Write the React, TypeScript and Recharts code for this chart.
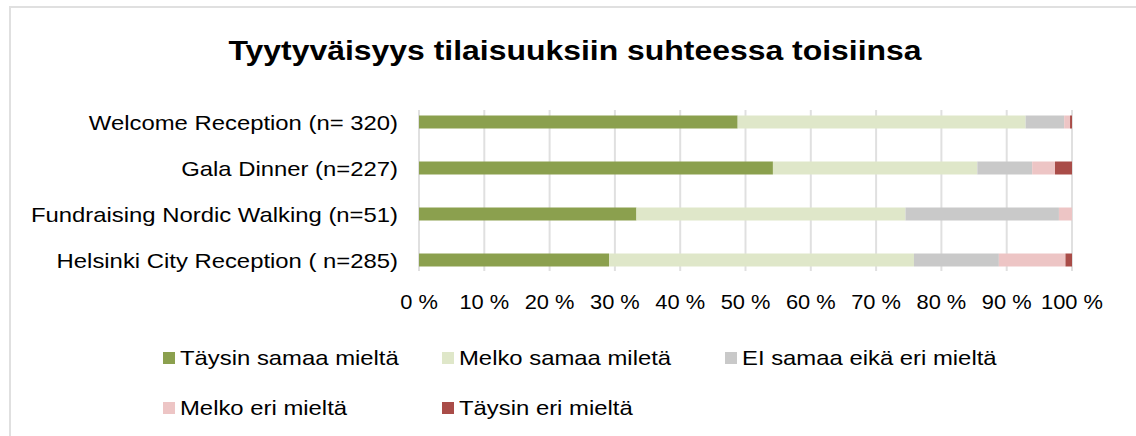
import { Bar, BarChart, CartesianGrid, Legend, XAxis, YAxis } from "recharts";

const events = [
  "Welcome Reception (n= 320)",
  "Gala Dinner (n=227)",
  "Fundraising Nordic Walking (n=51)",
  "Helsinki City Reception ( n=285)",
];

// osuudet prosentteina, luettu kuvasta
const taysinSamaa = [48.8, 54.2, 33.3, 29.1];
const melkoSamaa = [44.1, 31.3, 41.2, 46.7];
const eiSamaaEiEri = [5.9, 8.4, 23.5, 13.0];
const melkoEri = [0.9, 3.5, 2.0, 10.2];
const taysinEri = [0.3, 2.6, 0, 1.0];

const seriesNames = [
  "Täysin samaa mieltä",
  "Melko samaa miletä",
  "EI samaa eikä eri mieltä",
  "Melko eri mieltä",
  "Täysin eri mieltä",
];
const seriesKeys = ["ts", "ms", "ee", "me", "te"];
const seriesColors = ["#8ba04e", "#dfe7c9", "#c9c9c9", "#edc5c5", "#a94c48"];

const xTicks = [0, 10, 20, 30, 40, 50, 60, 70, 80, 90, 100];

const title = "Tyytyväisyys tilaisuuksiin suhteessa toisiinsa";

const data = events.map((name, i) => ({
  name,
  ts: taysinSamaa[i],
  ms: melkoSamaa[i],
  ee: eiSamaaEiEri[i],
  me: melkoEri[i],
  te: taysinEri[i],
}));

const FONT = '"Liberation Sans", Arial, sans-serif';

// legend slots: [left, centerY]
const legendSlots = [
  [163, 358],
  [442, 358],
  [725, 358],
  [163, 408],
  [442, 408],
];

function CategoryTick(props: any) {
  const { x, y, payload } = props;
  return (
    <g transform={`translate(${x},${y})`}>
      <text
        transform="scale(1.17,1)"
        textAnchor="end"
        dy="0.4em"
        fontSize={20.4}
        fontFamily={FONT}
        fill="#000"
      >
        {payload.value}
      </text>
    </g>
  );
}

function PercentTick(props: any) {
  const { x, y, payload } = props;
  return (
    <g transform={`translate(${x},${y})`}>
      <text
        transform="scale(1.12,1)"
        textAnchor="middle"
        dy="0.71em"
        fontSize={19.5}
        fontFamily={FONT}
        fill="#000"
      >
        {`${payload.value} %`}
      </text>
    </g>
  );
}

function LegendContent(props: any) {
  const payload = [...(props.payload || [])].sort(
    (a: any, b: any) => seriesNames.indexOf(a.value) - seriesNames.indexOf(b.value)
  );
  return (
    <div style={{ position: "relative", width: 1136, height: 436 }}>
      {payload.map((entry: any, i: number) => {
        const [left, cy] = legendSlots[i];
        return (
          <div
            key={entry.value}
            style={{
              position: "absolute",
              left,
              top: cy - 12,
              height: 24,
              display: "flex",
              alignItems: "center",
              whiteSpace: "nowrap",
            }}
          >
            <span
              style={{
                display: "inline-block",
                width: 12,
                height: 12,
                background: entry.color,
                marginRight: 5,
              }}
            />
            <span
              style={{
                display: "inline-block",
                fontFamily: FONT,
                fontSize: 20.4,
                lineHeight: "24px",
                color: "#000",
                transform: "scaleX(1.17)",
                transformOrigin: "left center",
              }}
            >
              {entry.value}
            </span>
          </div>
        );
      })}
    </div>
  );
}

export default function App() {
  return (
    <div
      style={{
        position: "absolute",
        left: 0,
        top: 0,
        width: 1136,
        height: 436,
        overflow: "hidden",
        background: "#fff",
      }}
    >
      <div
        style={{
          position: "absolute",
          left: 9,
          top: 6,
          width: 1200,
          height: 500,
          border: "2px solid #e0e0e0",
        }}
      />
      <div
        style={{
          position: "absolute",
          left: 0,
          top: 37,
          width: 1150,
          textAlign: "center",
          fontFamily: FONT,
          fontWeight: "bold",
          fontSize: 28,
          lineHeight: "28px",
          color: "#000",
        }}
      >
        <span style={{ display: "inline-block", transform: "scaleX(1.14)" }}>{title}</span>
      </div>
      <div style={{ position: "absolute", left: 0, top: 0 }}>
        <BarChart
          width={1136}
          height={436}
          data={data}
          layout="vertical"
          barSize={13}
          margin={{ top: 110, right: 64, bottom: 125, left: 19 }}
        >
          <CartesianGrid horizontal={false} stroke="#e0e0e0" strokeWidth={2} />
          <XAxis
            type="number"
            domain={[0, 100]}
            ticks={xTicks}
            interval={0}
            height={40}
            axisLine={false}
            tickLine={false}
            tickSize={0}
            tickMargin={24}
            tick={<PercentTick />}
          />
          <YAxis
            type="category"
            dataKey="name"
            width={400}
            padding={{ top: -11.5, bottom: -11.5 }}
            axisLine={false}
            tickLine={false}
            tickSize={0}
            tickMargin={21}
            tick={<CategoryTick />}
          />
          <Legend
            layout="horizontal"
            verticalAlign="middle"
            align="center"
            wrapperStyle={{ left: 0, top: 0, width: 1136, height: 436 }}
            content={<LegendContent />}
          />
          {seriesKeys.map((k, i) => (
            <Bar
              key={k}
              dataKey={k}
              name={seriesNames[i]}
              stackId="a"
              fill={seriesColors[i]}
              isAnimationActive={false}
            />
          ))}
        </BarChart>
      </div>
    </div>
  );
}
